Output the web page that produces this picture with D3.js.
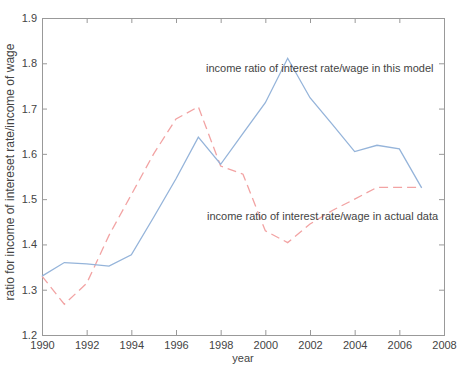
<!DOCTYPE html>
<html>
<head>
<style>
body {margin:0; background:#fff;}
svg {display:block;}
text {font-family: "Liberation Sans", Arial, sans-serif; fill:#444;}
</style>
</head>
<body>
<div id="chart"></div>
<script src="https://d3js.org/d3.v7.min.js"></script>
<script>
// data
var years = [1990,1991,1992,1993,1994,1995,1996,1997,1998,1999,2000,2001,2002,2003,2004,2005,2006,2007]
var model = [1.33,1.36,1.357,1.352,1.377,1.46,1.545,1.637,1.577,1.645,1.713,1.811,1.724,1.665,1.605,1.619,1.611,1.525]
var actual = [1.33,1.268,1.314,1.42,1.51,1.60,1.677,1.704,1.573,1.555,1.43,1.404,1.445,1.475,1.50,1.526,1.526,1.526]
var xTicks = [1990,1992,1994,1996,1998,2000,2002,2004,2006,2008]
var yTicks = [1.2,1.3,1.4,1.5,1.6,1.7,1.8,1.9]

var width = 459, height = 365
var margin = {top: 18, right: 15, bottom: 30, left: 42}

var svg = d3.select("#chart").append("svg")
  .attr("width", width)
  .attr("height", height)

var x = d3.scaleLinear().domain([1990, 2008]).range([margin.left, width - margin.right])
var y = d3.scaleLinear().domain([1.2, 1.9]).range([height - margin.bottom, margin.top])

// box with inward ticks on all sides, like matlab
var axisColor = "#999"
function styleAxis(g) {
  g.select(".domain").remove()
  g.selectAll(".tick line").attr("stroke", axisColor)
  g.selectAll(".tick text").style("font-size", "11px").attr("fill", "#555")
}
svg.append("g")
  .attr("transform", "translate(0," + y.range()[0] + ")")
  .call(d3.axisBottom(x).tickValues(xTicks).tickFormat(d3.format("d")).tickSizeInner(-5).tickPadding(6))
  .call(styleAxis)
svg.append("g")
  .attr("transform", "translate(0," + margin.top + ")")
  .call(d3.axisTop(x).tickValues(xTicks).tickFormat("").tickSizeInner(-5))
  .call(styleAxis)
svg.append("g")
  .attr("transform", "translate(" + margin.left + ",0)")
  .call(d3.axisLeft(y).tickValues(yTicks).tickFormat(d3.format(".1f")).tickSizeInner(-5).tickPadding(5))
  .call(styleAxis)
svg.append("g")
  .attr("transform", "translate(" + x.range()[1] + ",0)")
  .call(d3.axisRight(y).tickValues(yTicks).tickFormat("").tickSizeInner(-5))
  .call(styleAxis)

svg.append("rect")
  .attr("x", x.range()[0] + 0.5).attr("y", y.range()[1] + 0.5)
  .attr("width", x.range()[1] - x.range()[0]).attr("height", y.range()[0] - y.range()[1])
  .attr("fill", "none").attr("stroke", axisColor)

var line = d3.line()
  .x(function(d, i) { return x(years[i]) })
  .y(function(d) { return y(d) })

svg.append("path")
  .datum(actual)
  .attr("d", line)
  .attr("fill", "none")
  .attr("stroke", "#f2a3a3")
  .attr("stroke-width", 1.3)
  .attr("stroke-dasharray", "9,5")

svg.append("path")
  .datum(model)
  .attr("d", line)
  .attr("fill", "none")
  .attr("stroke", "#95b4da")
  .attr("stroke-width", 1.3)

// annotations
svg.append("text")
  .attr("x", 206).attr("y", 72)
  .style("font-size", "11px").attr("fill", "#333")
  .text("income ratio of interest rate/wage in this model")
svg.append("text")
  .attr("x", 207).attr("y", 220)
  .style("font-size", "11px").attr("fill", "#333")
  .text("income ratio of interest rate/wage in actual data")

// axis labels
svg.append("text")
  .attr("x", (x.range()[0] + x.range()[1]) / 2).attr("y", 362)
  .attr("text-anchor", "middle")
  .style("font-size", "11px").attr("fill", "#555")
  .text("year")
svg.append("text")
  .attr("transform", "translate(14,172) rotate(-90)")
  .attr("text-anchor", "middle")
  .style("font-size", "12px").attr("fill", "#555")
  .text("ratio for income of intereset rate/income of wage")
</script>
</body>
</html>
